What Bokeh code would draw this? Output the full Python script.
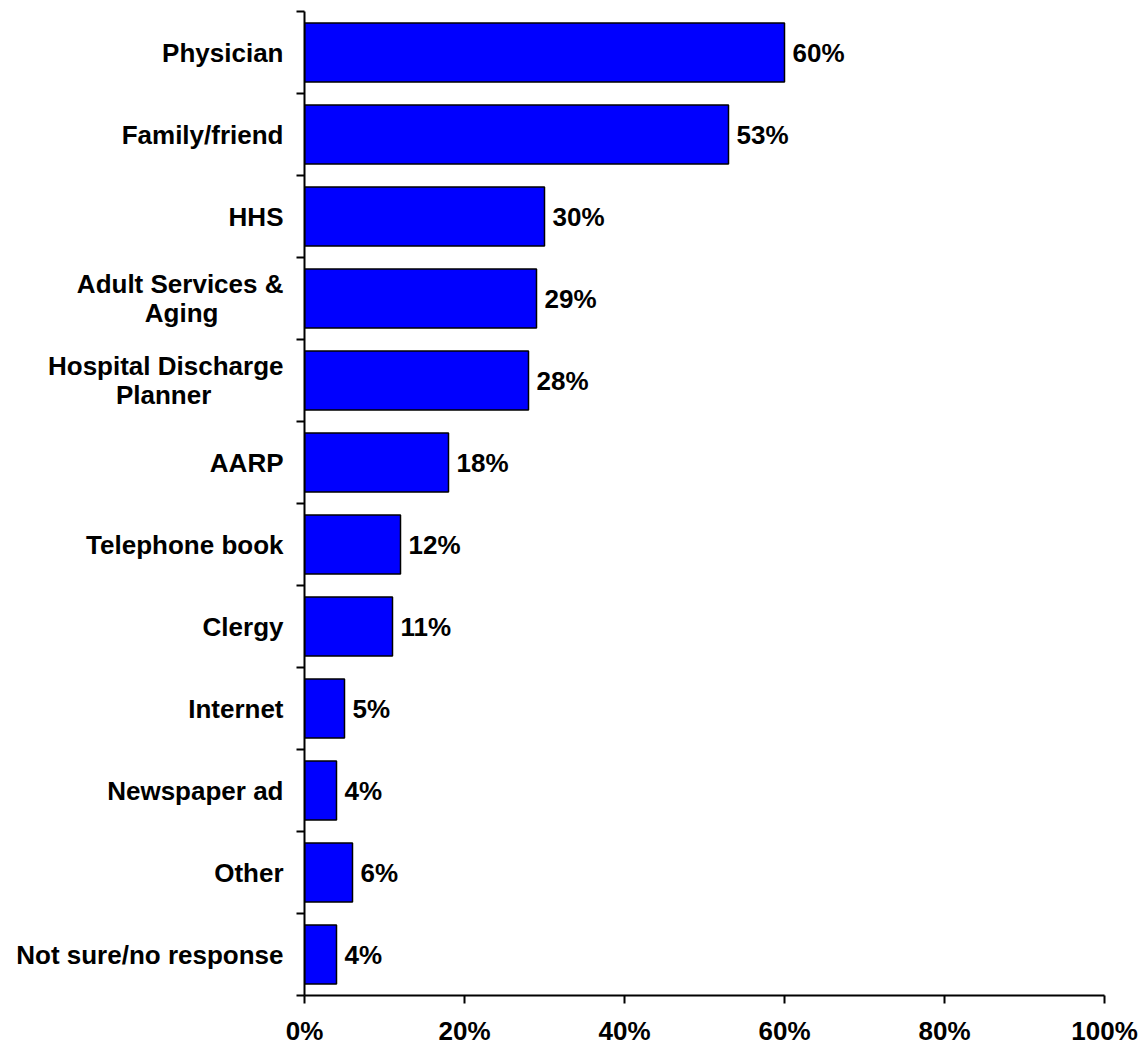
from bokeh.plotting import figure
from bokeh.models import FixedTicker, PrintfTickFormatter, ColumnDataSource
from bokeh.core.properties import value
from bokeh.embed import file_html
from bokeh.resources import INLINE

NB = "\u00a0"
categories = ["Physician", "Family/friend", "HHS", "Adult Services &\nAging" + NB * 9,
              "Hospital Discharge\nPlanner" + NB * 10, "AARP", "Telephone book", "Clergy",
              "Internet", "Newspaper ad", "Other", "Not sure/no response"]
values = [60, 53, 30, 29, 28, 18, 12, 11, 5, 4, 6, 4]
x_ticks = [0, 20, 40, 60, 80, 100]

n = len(categories)
ypos = [n - i - 0.5 for i in range(n)]
labels = [f"{v}%" for v in values]
src = ColumnDataSource(dict(y=ypos, v=values, lab=labels))

FONT = "Liberation Sans"
FS = "26px"

p = figure(frame_width=800, frame_height=984, x_range=(0, 100), y_range=(0, n),
           output_backend="svg", toolbar_location=None,
           min_border_left=304, min_border_right=37, min_border_top=11, min_border_bottom=49)
p.outline_line_color = None
p.grid.grid_line_color = None
p.background_fill_color = "white"

p.hbar(y="y", right="v", left=0, height=0.72, source=src,
       fill_color="#0000FF", line_color="black", line_width=1.5)
p.text(x="v", y="y", text="lab", source=src, x_offset=8,
       text_baseline="middle", text_align="left",
       text_font=value(FONT), text_font_style="bold", text_font_size=FS,
       text_color="black")

# x axis
p.xaxis.ticker = FixedTicker(ticks=x_ticks)
p.xaxis.formatter = PrintfTickFormatter(format="%d%%")
p.xaxis.axis_line_width = 2
p.xaxis.major_tick_line_width = 2
p.xaxis.major_tick_out = 8
p.xaxis.major_tick_in = 0
p.xaxis.minor_tick_line_color = None
p.xaxis.major_label_standoff = 12
p.xaxis.major_label_text_font = FONT
p.xaxis.major_label_text_font_style = "bold"
p.xaxis.major_label_text_font_size = FS
p.xaxis.major_label_text_color = "black"

# y axis
p.yaxis.ticker = FixedTicker(ticks=ypos, minor_ticks=list(range(n + 1)))
p.yaxis.major_label_overrides = {y: c for y, c in zip(ypos, categories)}
p.yaxis.axis_line_width = 2
p.yaxis.major_tick_line_color = None
p.yaxis.major_tick_out = 0
p.yaxis.major_tick_in = 0
p.yaxis.minor_tick_line_width = 2
p.yaxis.minor_tick_out = 8
p.yaxis.minor_tick_in = 0
p.yaxis.major_label_standoff = 13
p.yaxis.major_label_text_line_height = 0.95
p.yaxis.major_label_text_font = FONT
p.yaxis.major_label_text_font_style = "bold"
p.yaxis.major_label_text_font_size = FS
p.yaxis.major_label_text_color = "black"

open("out.html", "w").write(file_html(p, INLINE))
